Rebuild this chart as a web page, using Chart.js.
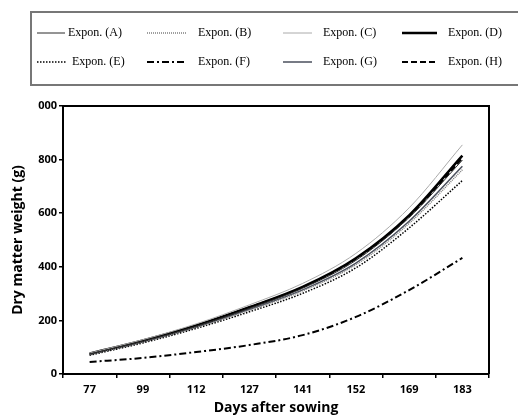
<!DOCTYPE html>
<html>
<head>
<meta charset="utf-8">
<script src="https://cdn.jsdelivr.net/npm/chart.js@4.4.1/dist/chart.umd.min.js"></script>
<style>
  html, body { margin: 0; padding: 0; background: #fff; }
  #wrap { width: 518px; height: 416px; }
</style>
</head>
<body>
<div id="wrap"><canvas id="myChart" width="518" height="416"></canvas></div>
<script>
// days after sowing
var days = ['77', '99', '112', '127', '141', '152', '169', '183'];
var yTickLabels = ['0', '200', '400', '600', '800', '000'];

// dry matter weight (g)
var seriesA = [75, 122, 178, 245, 320, 424, 584, 798];
var seriesB = [72, 119, 174, 238, 310, 408, 562, 762];
var seriesC = [78, 128, 187, 258, 338, 450, 620, 855];
var seriesD = [76, 125, 181, 249, 325, 432, 592, 815];
var seriesE = [70, 116, 170, 232, 301, 396, 545, 722];
var seriesF = [45, 60, 82, 108, 145, 213, 313, 433];
var seriesG = [73, 120, 175, 241, 314, 414, 570, 775];
var seriesH = [74, 123, 180, 248, 324, 430, 588, 805];

function ds(label, data, color, width, dash) {
	return {
		label: label,
		data: data,
		borderColor: color,
		borderWidth: width,
		borderDash: dash,
		pointRadius: 0,
		fill: false,
		cubicInterpolationMode: 'monotone'
	};
}

// legend drawn by hand: 4 columns x 2 rows inside a grey box
var legendBox = {
	id: 'legendBox',
	afterDraw: function(chart) {
		var ctx = chart.ctx;
		var a = chart.chartArea;
		ctx.save();
		// frame around plot
		ctx.strokeStyle = '#000';
		ctx.lineWidth = 2;
		ctx.beginPath();
		ctx.moveTo(a.left, a.top);
		ctx.lineTo(a.right, a.top);
		ctx.lineTo(a.right, a.bottom);
		ctx.stroke();

		ctx.strokeStyle = '#777';
		ctx.lineWidth = 2;
		ctx.strokeRect(31, 12, 520, 73);

		var cols = [[37, 65, 68], [147, 186, 198], [283, 312, 323], [402, 437, 448]];
		var rows = [33, 62];
		ctx.font = '12px "Liberation Serif", "Times New Roman", serif';
		ctx.textBaseline = 'middle';
		chart.data.datasets.forEach(function(d, i) {
			var c = cols[i % 4], y = rows[Math.floor(i / 4)];
			var x0 = c[0], x1 = c[1], tx = c[2];
			if (i == 4) { x1 = 67; tx = 72; }
			ctx.strokeStyle = d.borderColor;
			ctx.lineWidth = d.borderWidth;
			ctx.setLineDash(d.borderDash || []);
			ctx.beginPath();
			ctx.moveTo(x0, y);
			ctx.lineTo(x1, y);
			ctx.stroke();
			ctx.setLineDash([]);
			ctx.fillStyle = '#000';
			ctx.fillText(d.label, tx, y);
		});
		ctx.restore();
	}
};

const ctx = document.getElementById('myChart').getContext('2d');
const myChart = new Chart(ctx, {
	type: 'line',
	data: {
		labels: days,
		datasets: [
			ds('Expon. (A)', seriesA, '#2a2a2a', 1, []),
			ds('Expon. (B)', seriesB, '#808080', 1.5, [1, 1]),
			ds('Expon. (C)', seriesC, '#aaaaaa', 1, []),
			ds('Expon. (D)', seriesD, '#000000', 2.5, []),
			ds('Expon. (E)', seriesE, '#000000', 1.5, [1.5, 1.5]),
			ds('Expon. (F)', seriesF, '#000000', 2, [7, 3, 2, 3]),
			ds('Expon. (G)', seriesG, '#4a4f5c', 1.5, []),
			ds('Expon. (H)', seriesH, '#000000', 2, [6, 3])
		]
	},
	options: {
		responsive: false,
		animation: false,
		layout: { padding: { top: 106, right: 29, left: 10, bottom: 0 } },
		plugins: {
			legend: { display: false },
			tooltip: { enabled: false }
		},
		scales: {
			x: {
				offset: true,
				grid: { offset: true, drawOnChartArea: false, drawTicks: true, tickLength: 4, color: '#000', lineWidth: 1.5 },
				border: { color: '#000', width: 2 },
				ticks: {
					color: '#000',
					padding: 5,
					maxRotation: 0,
					font: { family: '"Open Sans", sans-serif', size: 11, weight: 'bold' }
				},
				title: {
					display: true,
					text: 'Days after sowing',
					color: '#000',
					padding: { top: 0, bottom: 0 },
					font: { family: '"Open Sans", sans-serif', size: 14, weight: 'bold' }
				},
				afterFit: function(s) { s.height = 42; }
			},
			y: {
				min: 0,
				max: 1000,
				grid: { drawOnChartArea: false, drawTicks: true, tickLength: 4, color: '#000', lineWidth: 1.5 },
				border: { color: '#000', width: 2 },
				ticks: {
					stepSize: 200,
					color: '#000',
					padding: 2,
					font: { family: '"Open Sans", sans-serif', size: 11, weight: 'bold' },
					callback: function(v, i) { return yTickLabels[i]; }
				},
				title: {
					display: true,
					text: 'Dry matter weight (g)',
					color: '#000',
					padding: { top: 0, bottom: 4 },
					font: { family: '"Open Sans", sans-serif', size: 14, weight: 'bold' }
				},
				afterFit: function(s) { s.width = 53; }
			}
		}
	},
	plugins: [legendBox]
});
</script>
</body>
</html>
